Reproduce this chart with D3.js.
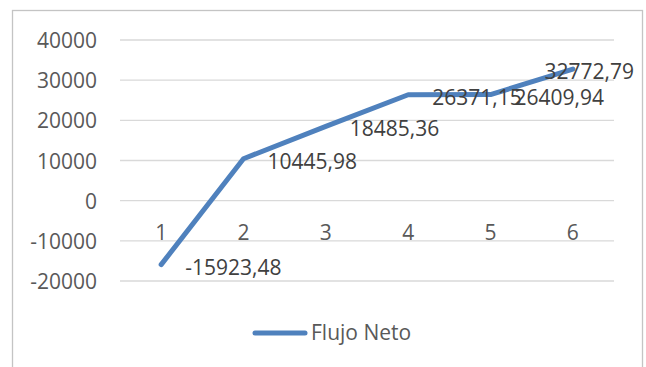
<!DOCTYPE html>
<html>
<head>
<meta charset="utf-8">
<script src="https://cdn.jsdelivr.net/npm/d3@7"></script>
<style>
  html, body { margin: 0; padding: 0; background: #fff; }
  svg { display: block; }
  text { font-family: "Open Sans", sans-serif; }
</style>
</head>
<body>
<svg id="chart" width="646" height="367"></svg>
<script>
// Net cash flow per period
const periods = ["1", "2", "3", "4", "5", "6"];
const flujoNeto = [-15923.48, 10445.98, 18485.36, 26371.15, 26409.94, 32772.79];
const yTicks = [-20000, -10000, 0, 10000, 20000, 30000, 40000];
const seriesName = "Flujo Neto";

const plot = { left: 120, right: 614, top: 40, bottom: 281 };
const lineColor = "#4F81BD";
const axisText = "#595959";
const labelText = "#404040";

const svg = d3.select("#chart");

// chart frame
svg.append("rect")
  .attr("x", 12.5).attr("y", 10.5)
  .attr("width", 630).attr("height", 380)
  .attr("fill", "#fff")
  .attr("stroke", "#c4c4c4").attr("stroke-width", 1.3);

const x = d3.scaleBand().domain(periods).range([plot.left, plot.right]);
const y = d3.scaleLinear().domain([-20000, 40000]).range([plot.bottom, plot.top]);
const cx = p => x(p) + x.bandwidth() / 2;

// horizontal gridlines
svg.append("g").selectAll("line").data(yTicks).join("line")
  .attr("x1", plot.left).attr("x2", plot.right)
  .attr("y1", d => y(d)).attr("y2", d => y(d))
  .attr("stroke", "#d9d9d9").attr("stroke-width", 1.4);

// value axis labels (plain hyphen for negatives)
const yAxis = d3.axisLeft(y).tickValues(yTicks).tickSize(0).tickPadding(0)
  .tickFormat(d => String(d));
const yg = svg.append("g").attr("transform", "translate(97,0)").call(yAxis);
yg.select(".domain").remove();
yg.selectAll("text")
  .attr("font-family", "'Open Sans', sans-serif")
  .attr("font-size", 21).attr("fill", axisText).attr("dy", "0.36em");

// category labels
svg.append("g").selectAll("text").data(periods).join("text")
  .attr("x", d => cx(d)).attr("y", 240)
  .attr("text-anchor", "middle")
  .attr("font-size", 21).attr("fill", axisText)
  .text(d => d);

// series line
const pts = periods.map((p, i) => ({ p, v: flujoNeto[i] }));
svg.append("path")
  .datum(pts)
  .attr("d", d3.line().x(d => cx(d.p)).y(d => y(d.v)))
  .attr("fill", "none")
  .attr("stroke", lineColor).attr("stroke-width", 5)
  .attr("stroke-linecap", "round").attr("stroke-linejoin", "round");

// data labels, right of each point, kept inside the frame
const fmt = v => v.toFixed(2).replace(".", ",");
svg.append("g").selectAll("text").data(pts).join("text")
  .attr("y", d => y(d.v) + 10)
  .attr("font-size", 21).attr("fill", labelText)
  .text(d => fmt(d.v))
  .attr("x", function (d) {
    const w = this.getComputedTextLength();
    return Math.min(cx(d.p) + 24, 634 - w);
  });

// legend
svg.append("line")
  .attr("x1", 255).attr("x2", 305).attr("y1", 333).attr("y2", 333)
  .attr("stroke", lineColor).attr("stroke-width", 5)
  .attr("stroke-linecap", "round");
svg.append("text")
  .attr("x", 311).attr("y", 340)
  .attr("font-size", 21).attr("fill", axisText)
  .text(seriesName);
</script>
</body>
</html>
